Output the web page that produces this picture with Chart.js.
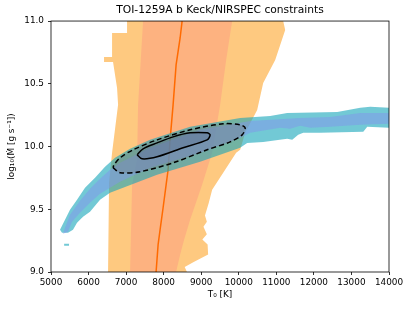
<!DOCTYPE html>
<html>
<head>
<meta charset="utf-8">
<script src="https://cdn.jsdelivr.net/npm/chart.js@4.4.0/dist/chart.umd.min.js"></script>
<style>
  html, body { margin: 0; padding: 0; background: #fff; }
  #chart { display: block; }
</style>
</head>
<body>
<canvas id="chart" width="411" height="309"></canvas>
<script>
// tick positions / labels
const xTickValues = [5000, 6000, 7000, 8000, 9000, 10000, 11000, 12000, 13000, 14000];
const yTickValues = [9.0, 9.5, 10.0, 10.5, 11.0];
const yTickLabels = ["9.0", "9.5", "10.0", "10.5", "11.0"];

// T0 constraint (orange): 2-sigma band, 1-sigma band, median  [T0, log10 Mdot]
const bandOuter = [
  [7025, 11.0], [7025, 10.905], [6626, 10.905], [6626, 10.714], [6412, 10.714],
  [6412, 10.674], [6652, 10.674], [6759, 10.467], [6786, 10.332], [6626, 9.95],
  [6546, 9.711], [6519, 9.0],
  [8620, 9.0], [8560, 9.04], [8800, 9.08], [9184, 9.14], [9170, 9.22], [9030, 9.26],
  [9150, 9.3], [9060, 9.36], [9150, 9.4], [9100, 9.45], [9200, 9.55], [9291, 9.656],
  [9637, 9.815], [9930, 9.95], [10037, 9.974], [10170, 10.109], [10490, 10.292],
  [10650, 10.507], [10970, 10.69], [11236, 10.928], [11183, 11.0]
];
const bandInner = [
  [7452, 11.0], [7319, 10.332], [7292, 9.894], [7159, 9.695], [7105, 9.0],
  [8331, 9.0], [8438, 9.138], [8544, 9.258], [8704, 9.417], [9024, 9.695],
  [9291, 9.95], [9504, 10.332], [9664, 10.69], [9824, 11.0]
];
const medianLine = [
  [8491, 11.0], [8438, 10.865], [8331, 10.65], [8251, 10.332], [8171, 10.053],
  [8118, 9.815], [8065, 9.695], [7985, 9.512], [7905, 9.337], [7852, 9.218], [7798, 9.0]
];

// Mdot-T0 degeneracy (blue): 2-sigma and 1-sigma regions
const blueOuter = [
  [5240, 9.337], [5400, 9.433], [5506, 9.496], [5693, 9.576], [5906, 9.671],
  [6173, 9.751], [6439, 9.839], [6706, 9.91], [7105, 9.982], [7638, 10.053],
  [8704, 10.157], [10037, 10.228], [10836, 10.244], [11289, 10.268], [12622, 10.276],
  [13235, 10.308], [13501, 10.316], [14000, 10.308],
  [14000, 10.149], [13421, 10.157], [13315, 10.117], [12169, 10.109], [11716, 10.109],
  [11583, 10.093], [11423, 10.053], [11289, 10.061], [10650, 10.037], [10223, 10.029],
  [10037, 9.99], [8971, 9.878], [7825, 9.775], [6919, 9.671], [6572, 9.632],
  [6306, 9.576], [6039, 9.481], [5853, 9.441], [5693, 9.393], [5586, 9.337],
  [5453, 9.313], [5293, 9.313]
];
const blueInner = [
  [5373, 9.353], [5506, 9.457], [5773, 9.568], [6039, 9.663], [6306, 9.743],
  [6572, 9.815], [6839, 9.87], [7638, 9.99], [8971, 10.133], [10303, 10.204],
  [11636, 10.228], [12435, 10.236], [13235, 10.268], [14000, 10.268],
  [14000, 10.181], [13235, 10.173], [12435, 10.157], [11902, 10.149], [11636, 10.165],
  [11369, 10.141], [11103, 10.149], [10303, 10.109], [10037, 10.069], [8971, 9.95],
  [7638, 9.831], [6839, 9.719], [6572, 9.671], [6306, 9.624], [6039, 9.552],
  [5773, 9.473], [5559, 9.401], [5453, 9.321], [5320, 9.305]
];
const blueSpeck = [[5350, 9.226], [5480, 9.226], [5480, 9.21], [5350, 9.21]];

// combined constraint contours (dashed = 2-sigma, solid = 1-sigma)
const combined2sig = [
  [6652, 9.831], [6839, 9.791], [7372, 9.799], [8251, 9.87], [9157, 9.974],
  [9770, 10.037], [10090, 10.093], [10170, 10.149], [10037, 10.173], [9584, 10.181],
  [8704, 10.133], [7825, 10.053], [7185, 9.974], [6839, 9.91], [6679, 9.854]
];
const combined1sig = [
  [7292, 9.934], [7425, 9.902], [7825, 9.918], [8518, 9.99], [9157, 10.053],
  [9237, 10.093], [9157, 10.109], [8704, 10.109], [8251, 10.077], [7825, 10.029],
  [7452, 9.982]
];

const toXY = (pts) => pts.map(([x, y]) => ({ x, y }));
const closed = (pts) => toXY([...pts, pts[0]]);

function region(pts, color) {
  return {
    data: toXY(pts),
    fill: "shape",
    backgroundColor: color,
    borderWidth: 0,
    pointRadius: 0,
    tension: 0,
  };
}

const frame = {
  id: "frame",
  afterDatasetsDraw(chart) {
    const { ctx, chartArea: a } = chart;
    ctx.save();
    ctx.strokeStyle = "#000";
    ctx.lineWidth = 0.8;
    ctx.strokeRect(a.left, a.top, a.right - a.left, a.bottom - a.top);
    ctx.restore();
  },
};

const tickFont = { family: "DejaVu Sans", size: 8.9 };

new Chart(document.getElementById("chart"), {
  type: "line",
  data: {
    datasets: [
      {
        data: closed(combined1sig),
        fill: "shape",
        backgroundColor: "rgba(70, 85, 120, 0.22)",
        borderColor: "#000",
        borderWidth: 1.5,
        pointRadius: 0,
        tension: 0.3,
      },
      {
        data: closed(combined2sig),
        fill: "shape",
        backgroundColor: "rgba(115, 122, 130, 0.34)",
        borderColor: "#000",
        borderWidth: 1.5,
        borderDash: [5, 3],
        pointRadius: 0,
        tension: 0.3,
      },
      region(blueSpeck, "rgba(20, 165, 185, 0.6)"),
      region(blueInner, "rgba(130, 150, 235, 0.5)"),
      region(blueOuter, "rgba(20, 165, 185, 0.6)"),
      {
        data: toXY(medianLine),
        fill: false,
        borderColor: "#ff6a00",
        borderWidth: 1.5,
        pointRadius: 0,
        tension: 0,
      },
      region(bandInner, "rgb(253, 178, 128)"),
      region(bandOuter, "rgb(254, 201, 128)"),
    ],
  },
  options: {
    responsive: false,
    animation: false,
    devicePixelRatio: 1,
    layout: { padding: { left: 0, right: 22, top: 0, bottom: 0 } },
    plugins: {
      legend: { display: false },
      tooltip: { enabled: false },
      title: {
        display: true,
        fullSize: false,
        text: "TOI-1259A b Keck/NIRSPEC constraints",
        color: "#000",
        font: { family: "DejaVu Sans", size: 10.7, weight: "normal" },
        padding: { top: 4, bottom: 4.2 },
      },
    },
    scales: {
      x: {
        type: "linear",
        min: 5000,
        max: 14000,
        afterFit: (scale) => { scale.height = 37; },
        afterBuildTicks: (scale) => { scale.ticks = xTickValues.map((v) => ({ value: v })); },
        ticks: {
          color: "#000",
          font: tickFont,
          padding: 2,
          maxRotation: 0,
          autoSkip: false,
          callback: (v) => String(v),
        },
        grid: { drawOnChartArea: false, tickLength: 3, color: "#000", lineWidth: 0.8 },
        border: { display: false },
        title: {
          display: true,
          text: "T₀ [K]",
          color: "#000",
          font: { family: "DejaVu Sans", size: 8.9 },
          padding: { top: 0, bottom: 8.7 },
        },
      },
      y: {
        min: 9,
        max: 11,
        afterFit: (scale) => { scale.width = 51; },
        afterBuildTicks: (scale) => { scale.ticks = yTickValues.map((v) => ({ value: v })); },
        ticks: {
          color: "#000",
          font: tickFont,
          padding: 4,
          autoSkip: false,
          callback: (v) => yTickLabels[yTickValues.indexOf(v)],
        },
        grid: { drawOnChartArea: false, tickLength: 3, color: "#000", lineWidth: 0.8 },
        border: { display: false },
        title: {
          display: true,
          text: "log₁₀(Ṁ [g s⁻¹])",
          color: "#000",
          font: { family: "DejaVu Sans", size: 8.9 },
          padding: { top: 6.5, bottom: 0 },
        },
      },
    },
  },
  plugins: [frame],
});
</script>
</body>
</html>
